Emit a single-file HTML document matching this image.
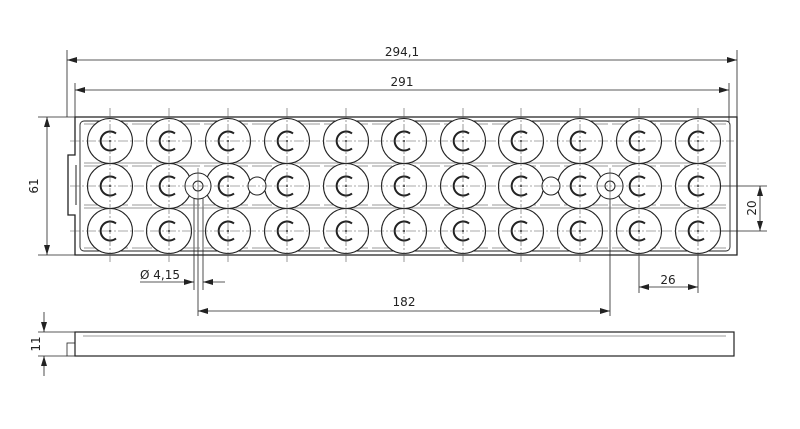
<!DOCTYPE html>
<html><head><meta charset="utf-8"><style>
html,body{margin:0;padding:0;background:#fff;width:800px;height:429px;overflow:hidden}
text{font-family:"DejaVu Sans","Liberation Sans",sans-serif;font-size:12px;fill:#222}
</style></head><body>
<svg width="800" height="429" viewBox="0 0 800 429" xmlns="http://www.w3.org/2000/svg">
<defs>
<marker id="a" viewBox="0 0 10 6" refX="10" refY="3" markerWidth="10" markerHeight="6" orient="auto-start-reverse" markerUnits="userSpaceOnUse"><path d="M0,0 L10,3 L0,6z" fill="#222"/></marker>
<g id="c">
<circle cx="0" cy="0" r="22.5" fill="#fff" stroke="#222" stroke-width="1.1"/>
<path d="M6,-7.5 A9.5,9.5 0 1,0 6,7.5" fill="none" stroke="#222" stroke-width="2"/>
<circle cx="0" cy="0" r="1" fill="#222"/>
</g>
<g id="col">
<use href="#c" x="0" y="141"/>
<use href="#c" x="0" y="186"/>
<use href="#c" x="0" y="231"/>
</g>
<line id="vl" x1="0" y1="108" x2="0" y2="262" stroke="#555" stroke-width="0.6" stroke-dasharray="10 2 2 2"/>
</defs>
<g stroke="#222" fill="none" stroke-width="0.8">
<line x1="67" y1="50" x2="67" y2="117"/>
<line x1="737" y1="50" x2="737" y2="117"/>
<line x1="67" y1="60" x2="737" y2="60" marker-start="url(#a)" marker-end="url(#a)"/>
<line x1="75" y1="83" x2="75" y2="117"/>
<line x1="729" y1="83" x2="729" y2="122"/>
<line x1="75" y1="90" x2="729" y2="90" marker-start="url(#a)" marker-end="url(#a)"/>
<line x1="38" y1="117" x2="75" y2="117"/>
<line x1="38" y1="255" x2="75" y2="255"/>
<line x1="47" y1="117" x2="47" y2="255" marker-start="url(#a)" marker-end="url(#a)"/>
<line x1="700" y1="186" x2="767" y2="186"/>
<line x1="700" y1="231" x2="767" y2="231"/>
<line x1="760" y1="186" x2="760" y2="231" marker-start="url(#a)" marker-end="url(#a)"/>
<line x1="639" y1="231" x2="639" y2="293"/>
<line x1="698" y1="231" x2="698" y2="293"/>
<line x1="639" y1="287" x2="698" y2="287" marker-start="url(#a)" marker-end="url(#a)"/>
<line x1="198" y1="186" x2="198" y2="316"/>
<line x1="610" y1="186" x2="610" y2="316"/>
<line x1="198" y1="311" x2="610" y2="311" marker-start="url(#a)" marker-end="url(#a)"/>
<line x1="194" y1="190" x2="194" y2="290"/>
<line x1="203" y1="190" x2="203" y2="290"/>
<line x1="140" y1="282" x2="194" y2="282" marker-end="url(#a)"/>
<line x1="203" y1="282" x2="225" y2="282" marker-start="url(#a)"/>
<path d="M75,117 H737 V255 H75 V215 H68 V155 H75 Z" stroke-width="1.3"/>
<rect x="80" y="121" width="650" height="130" rx="4" stroke-width="0.9"/>
<line x1="84" y1="163" x2="726" y2="163" stroke="#777"/>
<line x1="84" y1="208" x2="726" y2="208" stroke="#777"/>
<line x1="84" y1="166" x2="726" y2="166" stroke="#777" stroke-dasharray="20 4"/>
<line x1="84" y1="205" x2="726" y2="205" stroke="#777" stroke-dasharray="20 4"/>
<line x1="84" y1="124" x2="726" y2="124" stroke="#777" stroke-dasharray="20 4"/>
<line x1="84" y1="248" x2="726" y2="248" stroke="#777" stroke-dasharray="20 4"/>
<line x1="76" y1="165" x2="76" y2="205" stroke-width="1"/>
<rect x="75" y="332" width="659" height="24" stroke-width="1.2"/>
<line x1="83" y1="336" x2="726" y2="336" stroke="#777"/>
<rect x="67" y="343" width="8" height="13"/>
<line x1="38" y1="332" x2="75" y2="332"/>
<line x1="38" y1="356" x2="67" y2="356"/>
<line x1="44" y1="312" x2="44" y2="332" marker-end="url(#a)"/>
<line x1="44" y1="376" x2="44" y2="356" marker-end="url(#a)"/>
</g>
<use href="#col" x="110"/>
<use href="#col" x="169"/>
<use href="#col" x="228"/>
<use href="#col" x="287"/>
<use href="#col" x="346"/>
<use href="#col" x="404"/>
<use href="#col" x="463"/>
<use href="#col" x="521"/>
<use href="#col" x="580"/>
<use href="#col" x="639"/>
<use href="#col" x="698"/>
<g stroke="#222" fill="#fff" stroke-width="1">
<circle cx="257" cy="186" r="9"/>
<circle cx="551" cy="186" r="9"/>
<circle cx="198" cy="186" r="13"/>
<circle cx="198" cy="186" r="5"/>
<circle cx="610" cy="186" r="13"/>
<circle cx="610" cy="186" r="5"/>
</g>
<g stroke="#555" fill="none" stroke-width="0.6" stroke-dasharray="10 2 2 2">
<line x1="70" y1="141" x2="734" y2="141"/>
<line x1="70" y1="186" x2="734" y2="186"/>
<line x1="70" y1="231" x2="734" y2="231"/>
</g>
<use href="#vl" x="110"/><use href="#vl" x="169"/><use href="#vl" x="228"/><use href="#vl" x="287"/>
<use href="#vl" x="346"/><use href="#vl" x="404"/><use href="#vl" x="463"/><use href="#vl" x="521"/>
<use href="#vl" x="580"/><use href="#vl" x="639"/><use href="#vl" x="698"/>
<g stroke="#444" stroke-width="0.6">
<line x1="198" y1="168" x2="198" y2="204"/>
<line x1="610" y1="168" x2="610" y2="204"/>
</g>
<g text-anchor="middle">
<text x="402" y="56">294,1</text>
<text x="402" y="86">291</text>
<text x="668" y="284">26</text>
<text x="404" y="306">182</text>
<text x="160" y="279">Ø 4,15</text>
<text transform="translate(38,186) rotate(-90)">61</text>
<text transform="translate(756,208) rotate(-90)">20</text>
<text transform="translate(40,344) rotate(-90)" font-size="10">11</text>
</g>
</svg>
</body></html>
